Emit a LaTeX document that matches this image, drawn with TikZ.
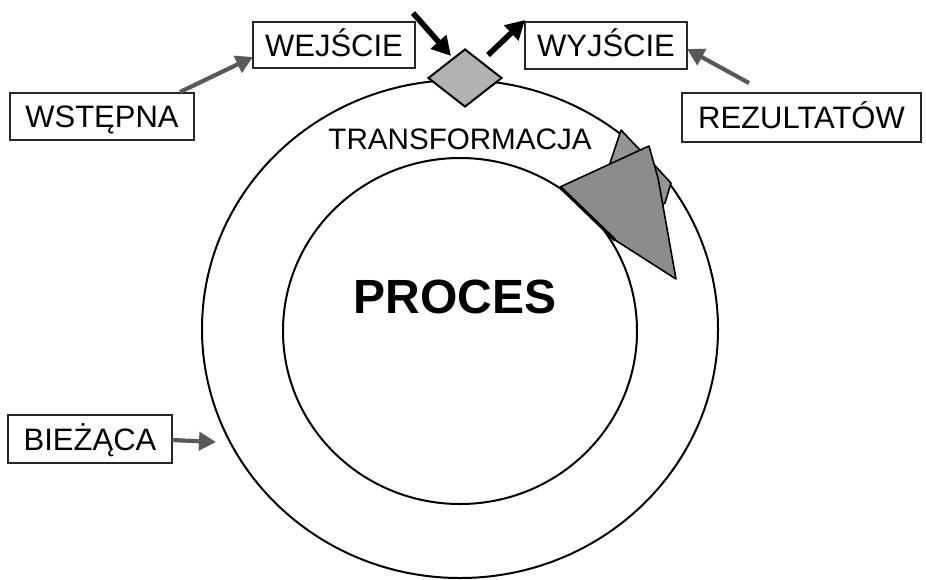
\documentclass[tikz,border=0pt]{standalone}
\usepackage{fontspec}
\setmainfont{Liberation Sans}
\usetikzlibrary{arrows.meta,shapes.geometric}
\begin{document}
\begin{tikzpicture}[x=0.5pt,y=-0.5pt,
  labelbox/.style={draw=black!85,line width=0.6pt,inner sep=0pt,
    font=\fontsize{15.5}{18}\selectfont,text height=11.1pt,text depth=0pt},
  feed/.style={draw=black!65,line width=2.1pt,-{Triangle[length=8.5pt,width=9pt]}},
  flow/.style={draw=black,line width=2.8pt,-{Triangle[length=9.5pt,width=10pt]}},
  ringline/.style={line width=1pt},
  headface/.style={fill=black!45,draw=black,line width=0.8pt,line join=round}]
\useasboundingbox (0,0) rectangle (926,579);
\fill[white] (0,0) rectangle (926,579);

% the process ring
\draw[ringline] (460,329) ellipse [x radius=258, y radius=249];
\draw[ringline] (460,331) ellipse [x radius=177, y radius=173];

% folded arrowhead showing the direction of the cycle
\draw[headface,fill=black!42] (621,130) -- (671,183) -- (665,203) -- (650,212) -- (609,166) -- cycle;
\draw[headface] (560,187) -- (649,146) -- (658,178) -- (676,279) -- (615,240) -- cycle;
\draw[line width=1.6pt] (560,187) -- (615,240);

% transformation point on the ring
\node[diamond,draw=black,line width=1pt,fill=black!30,inner sep=0pt,
  minimum width=37pt,minimum height=29pt] (point) at (465,78) {};

% texts
\node[font=\fontsize{14.8}{18}\selectfont,text height=10.6pt,text depth=0pt,inner sep=0pt]
  (transf) at (460,139) {TRANSFORMACJA};
\node[font=\fontsize{24}{28}\bfseries\selectfont,text height=17.2pt,text depth=0pt,inner sep=0pt]
  (proces) at (455,296) {PROCES};

% labelled boxes
\node[labelbox,minimum width=81pt,minimum height=23pt] (wejscie) at (334,45) {WEJŚCIE};
\node[labelbox,minimum width=81pt,minimum height=23.5pt] (wyjscie) at (606,45.5) {WYJŚCIE};
\node[labelbox,minimum width=92pt,minimum height=23.5pt] (wstepna) at (102,116.5) {WSTĘPNA};
\node[labelbox,minimum width=119.5pt,minimum height=24.5pt] (rezultaty) at (801.5,117.5) {REZULTATÓW};
\node[labelbox,minimum width=82pt,minimum height=24pt] (biezaca) at (90,439) {BIEŻĄCA};

% input and output of the transformation
\coordinate (inTail) at (413,13);
\coordinate (inTip) at (451,56);
\coordinate (outTail) at (488,55);
\coordinate (outTip) at (525,20);
\draw[flow] (inTail) -- (inTip);
\draw[flow] (outTail) -- (outTip);

% feeding arrows
\coordinate (wstepnaOut) at (180,92);
\coordinate (wejscieIn) at (253,57);
\draw[feed] (wstepnaOut) -- (wejscieIn);
\coordinate (rezultatyOut) at (749,83);
\coordinate (wyjscieIn) at (687,49);
\draw[feed] (rezultatyOut) -- (wyjscieIn);
\coordinate (biezacaOut) at (172,440);
\coordinate (ringIn) at (216,442);
\draw[feed] (biezacaOut) -- (ringIn);
\end{tikzpicture}
\end{document}
